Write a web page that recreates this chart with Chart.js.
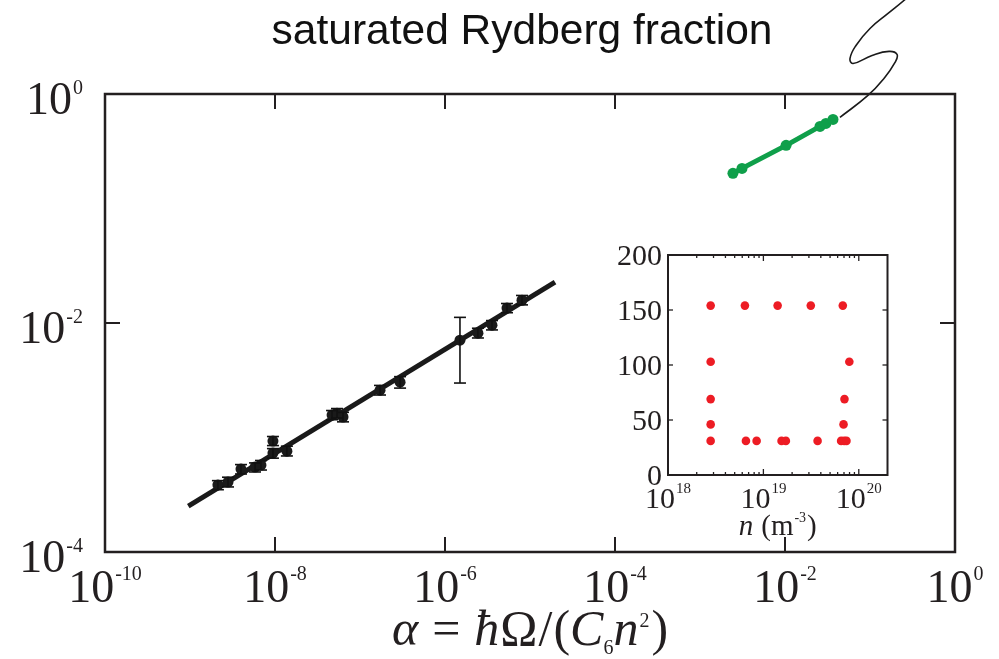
<!DOCTYPE html>
<html><head><meta charset="utf-8">
<script src="https://cdn.jsdelivr.net/npm/chart.js@4.4.0/dist/chart.umd.min.js"></script>
<style>
html,body{margin:0;padding:0;background:#fff;}
#wrap{position:relative;width:999px;height:659px;overflow:hidden;}
#main{position:absolute;left:0;top:0;}
#inset{position:absolute;left:600px;top:240px;}
</style></head><body>
<div id="wrap"><canvas id="main" width="999" height="659"></canvas><canvas id="inset" width="300" height="310"></canvas></div>
<script>
// ---- main panel data: saturated Rydberg fraction vs alpha ----
const alphaValues     = [2.13e-9, 2.80e-9, 3.98e-9, 5.82e-9, 6.84e-9, 9.46e-9, 9.46e-9, 1.38e-8, 4.69e-8, 5.36e-8, 6.31e-8, 1.72e-7, 2.96e-7, 1.50e-6, 2.44e-6, 3.57e-6, 5.36e-6, 8.05e-6];
const fractionValues  = [3.85e-4, 4.08e-4, 5.30e-4, 5.52e-4, 5.74e-4, 9.31e-4, 7.31e-4, 7.60e-4, 1.57e-3, 1.63e-3, 1.51e-3, 2.59e-3, 3.04e-3, 7.08e-3, 8.15e-3, 9.57e-3, 1.35e-2, 1.58e-2];
const fractionErrLow  = [3.5e-4, 3.7e-4, 4.8e-4, 5.0e-4, 5.2e-4, 8.5e-4, 6.6e-4, 6.9e-4, 1.43e-3, 1.48e-3, 1.37e-3, 2.35e-3, 2.7e-3, 2.99e-3, 7.4e-3, 8.7e-3, 1.23e-2, 1.44e-2];
const fractionErrHigh = [4.2e-4, 4.5e-4, 5.8e-4, 6.0e-4, 6.3e-4, 1.02e-3, 8.0e-4, 8.4e-4, 1.72e-3, 1.79e-3, 1.66e-3, 2.85e-3, 3.4e-3, 1.12e-2, 9.0e-3, 1.05e-2, 1.48e-2, 1.74e-2];
const fitAlpha    = [9.55e-10, 1.97e-5];
const fitFraction = [2.51e-4, 2.27e-2];
const greenAlpha    = [2.44e-3, 3.12e-3, 1.03e-2, 2.58e-2, 3.03e-2, 3.67e-2];
const greenFraction = [0.203, 0.224, 0.356, 0.521, 0.553, 0.600];
const squiggleAlpha    = [0.0443, 0.0946, 0.146, 0.197, 0.208, 0.1675, 0.1057, 0.0631, 0.0582, 0.0684, 0.100, 0.163, 0.251, 0.338];
const squiggleFraction = [0.625, 0.972, 1.368, 1.888, 2.22, 2.355, 2.173, 1.849, 2.046, 2.655, 3.733, 5.05, 6.56, 8.02];
const xTickValues = [1e-10, 1e-8, 1e-6, 1e-4, 1e-2, 1];
const xTickExp    = ['-10', '-8', '-6', '-4', '-2', '0'];
const yTickValues = [1e-4, 1e-2, 1];
const yTickExp    = ['-4', '-2', '0'];
const chartTitle = 'saturated Rydberg fraction';

// ---- inset data: n (m^-3) vs principal quantum number ----
const insetDensity = [2.8e18, 6.4e18, 1.41e19, 3.14e19, 6.8e19,
                      2.8e18, 7.96e19,
                      2.8e18, 7.08e19,
                      2.8e18, 6.92e19,
                      2.8e18, 6.56e18, 8.49e18, 1.55e19, 1.72e19, 3.70e19, 6.53e19, 7.02e19, 7.43e19];
const insetLevel   = [154, 154, 154, 154, 154,
                      103, 103,
                      69, 69,
                      46, 46,
                      31, 31, 31, 31, 31, 31, 31, 31, 31];
const insetXTickValues = [1e18, 1e19, 1e20];
const insetXTickExp    = ['18', '19', '20'];
const insetMinorMult   = [2, 3, 4, 5, 6, 7, 8, 9];
const insetYTickValues = [0, 50, 100, 150, 200];

const INK = '#231f20';
const GREEN = '#0f9f4a';
const RED = '#ed1c24';
const SERIF = '"Liberation Serif", "Times New Roman", serif';

function drawPow(ctx, base, exp, x, y, align, bigPx, smallPx, rise) {
  ctx.font = bigPx + 'px ' + SERIF; const wb = ctx.measureText(base).width;
  ctx.font = smallPx + 'px ' + SERIF; const we = ctx.measureText(exp).width;
  const total = wb + we + 1;
  const x0 = align === 'center' ? x - total / 2 : (align === 'right' ? x - total : x);
  ctx.textAlign = 'left'; ctx.textBaseline = 'alphabetic';
  ctx.font = bigPx + 'px ' + SERIF; ctx.fillText(base, x0, y);
  ctx.font = smallPx + 'px ' + SERIF; ctx.fillText(exp, x0 + wb + 1, y - rise);
}
function seg(ctx, x1, y1, x2, y2) { ctx.beginPath(); ctx.moveTo(x1, y1); ctx.lineTo(x2, y2); ctx.stroke(); }
function drawRuns(ctx, runs, cx, baseline) {
  let total = 0;
  runs.forEach(r => { ctx.font = r.f; r.w = ctx.measureText(r.t).width; total += r.w + (r.gap || 0); });
  let x = cx - total / 2;
  ctx.textAlign = 'left'; ctx.textBaseline = 'alphabetic';
  runs.forEach(r => { ctx.font = r.f; ctx.fillText(r.t, x, baseline + (r.dy || 0)); x += r.w + (r.gap || 0); });
}

const mainFrame = {
  id: 'mainFrame',
  afterDatasetsDraw(chart) {
    const { ctx, scales: { x, y } } = chart;
    ctx.save();
    ctx.strokeStyle = '#111'; ctx.lineWidth = 1.6;
    alphaValues.forEach((a, i) => {
      const px = x.getPixelForValue(a);
      const lo = y.getPixelForValue(fractionErrLow[i]);
      const hi = y.getPixelForValue(fractionErrHigh[i]);
      seg(ctx, px, lo, px, hi);
      seg(ctx, px - 6, lo, px + 6, lo);
      seg(ctx, px - 6, hi, px + 6, hi);
    });
    ctx.restore();
  },
  afterDraw(chart) {
    const { ctx, chartArea: a, scales: { x, y } } = chart;
    ctx.save();
    ctx.strokeStyle = INK; ctx.fillStyle = INK;
    ctx.lineWidth = 2.5;
    ctx.strokeRect(a.left, a.top, a.right - a.left, a.bottom - a.top);
    ctx.lineWidth = 2;
    xTickValues.forEach((v, i) => {
      const px = x.getPixelForValue(v);
      seg(ctx, px, a.bottom, px, a.bottom - 15);
      seg(ctx, px, a.top, px, a.top + 15);
      drawPow(ctx, '10', xTickExp[i], px, a.bottom + 50, 'center', 46, 20, 22);
    });
    yTickValues.forEach((v, i) => {
      const py = y.getPixelForValue(v);
      seg(ctx, a.left, py, a.left + 15, py);
      seg(ctx, a.right, py, a.right - 15, py);
      drawPow(ctx, '10', yTickExp[i], a.left - 22, py + 20, 'right', 46, 20, 20);
    });
    // axis title
    const big = 50, small = 20;
    const it = 'italic ' + big + 'px ' + SERIF, up = big + 'px ' + SERIF, sm = small + 'px ' + SERIF;
    drawRuns(ctx, [
      { t: 'α', f: it, gap: 14 }, { t: '=', f: up, gap: 14 }, { t: 'ħ', f: it, gap: 1 }, { t: 'Ω', f: up, gap: 1 },
      { t: '/', f: up, gap: 1 }, { t: '(', f: up }, { t: 'C', f: it }, { t: '6', f: sm, dy: 9 },
      { t: 'n', f: it, gap: 1 }, { t: '2', f: sm, dy: -18, gap: 2 }, { t: ')', f: up }
    ], (a.left + a.right) / 2, 645);
    // chart title
    ctx.fillStyle = '#111';
    ctx.font = '42.5px "Liberation Sans", Arial, sans-serif';
    ctx.textAlign = 'center'; ctx.textBaseline = 'alphabetic';
    ctx.fillText(chartTitle, 522, 44);
    ctx.restore();
  }
};

new Chart(document.getElementById('main'), {
  type: 'scatter',
  data: {
    datasets: [
      { label: 'data', data: alphaValues.map((v, i) => ({ x: v, y: fractionValues[i] })),
        showLine: false, pointRadius: 5.5, pointBackgroundColor: '#1a1a1a', pointBorderColor: '#1a1a1a', pointBorderWidth: 0, order: 1 },
      { label: 'fit', data: fitAlpha.map((v, i) => ({ x: v, y: fitFraction[i] })),
        showLine: true, borderColor: '#1a1a1a', borderWidth: 5, pointRadius: 0, order: 2 },
      { label: 'green', data: greenAlpha.map((v, i) => ({ x: v, y: greenFraction[i] })),
        showLine: true, borderColor: GREEN, borderWidth: 5, pointRadius: 5.5, pointBackgroundColor: GREEN, pointBorderWidth: 0, order: 1 },
      { label: 'squiggle', data: squiggleAlpha.map((v, i) => ({ x: v, y: squiggleFraction[i] })),
        showLine: true, borderColor: '#1a1a1a', borderWidth: 1.6, pointRadius: 0, tension: 0.45, clip: false, order: 3 }
    ]
  },
  options: {
    responsive: false, animation: false, devicePixelRatio: 1,
    layout: { padding: { left: 105, right: 44, top: 94, bottom: 107 } },
    plugins: { legend: { display: false }, tooltip: { enabled: false } },
    scales: {
      x: { type: 'logarithmic', min: 1e-10, max: 1, display: false },
      y: { type: 'logarithmic', min: 1e-4, max: 1, display: false }
    }
  },
  plugins: [mainFrame]
});

const insetFrame = {
  id: 'insetFrame',
  beforeDraw(chart) {
    const { ctx, chartArea: a } = chart;
    ctx.save(); ctx.fillStyle = '#fff';
    ctx.fillRect(a.left, a.top, a.right - a.left, a.bottom - a.top);
    ctx.restore();
  },
  afterDraw(chart) {
    const { ctx, chartArea: a, scales: { x, y } } = chart;
    ctx.save();
    ctx.strokeStyle = INK; ctx.fillStyle = INK;
    ctx.lineWidth = 2;
    ctx.strokeRect(a.left, a.top, a.right - a.left, a.bottom - a.top);
    ctx.lineWidth = 1.3;
    insetXTickValues.forEach((v, i) => {
      const px = x.getPixelForValue(v);
      seg(ctx, px, a.bottom, px, a.bottom - 6);
      seg(ctx, px, a.top, px, a.top + 6);
      drawPow(ctx, '10', insetXTickExp[i], px, a.bottom + 33, 'center', 30, 15, 15);
      insetMinorMult.forEach(m => {
        const mv = v * m;
        if (mv < x.max) {
          const mx = x.getPixelForValue(mv);
          seg(ctx, mx, a.bottom, mx, a.bottom - 3);
          seg(ctx, mx, a.top, mx, a.top + 3);
        }
      });
    });
    insetYTickValues.forEach(v => {
      const py = y.getPixelForValue(v);
      seg(ctx, a.left, py, a.left + 5, py);
      seg(ctx, a.right, py, a.right - 5, py);
      ctx.font = '30px ' + SERIF; ctx.textAlign = 'right'; ctx.textBaseline = 'alphabetic';
      ctx.fillText(String(v), a.left - 6, py + 10);
    });
    const it = 'italic 29px ' + SERIF, up = '29px ' + SERIF, sm = '14px ' + SERIF;
    drawRuns(ctx, [
      { t: 'n', f: it, gap: 8 }, { t: '(m', f: up, gap: 1 }, { t: '-3', f: sm, dy: -13, gap: 1 }, { t: ')', f: up }
    ], (a.left + a.right) / 2, a.bottom + 60);
    ctx.restore();
  }
};

new Chart(document.getElementById('inset'), {
  type: 'scatter',
  data: {
    datasets: [
      { label: 'levels', data: insetDensity.map((v, i) => ({ x: v, y: insetLevel[i] })),
        pointRadius: 4.3, pointBackgroundColor: RED, pointBorderWidth: 0 }
    ]
  },
  options: {
    responsive: false, animation: false, devicePixelRatio: 1,
    layout: { padding: { left: 68, right: 12.5, top: 15, bottom: 75 } },
    plugins: { legend: { display: false }, tooltip: { enabled: false } },
    scales: {
      x: { type: 'logarithmic', min: 1e18, max: 2e20, display: false },
      y: { type: 'linear', min: 0, max: 200, display: false }
    }
  },
  plugins: [insetFrame]
});
</script>
</body></html>
